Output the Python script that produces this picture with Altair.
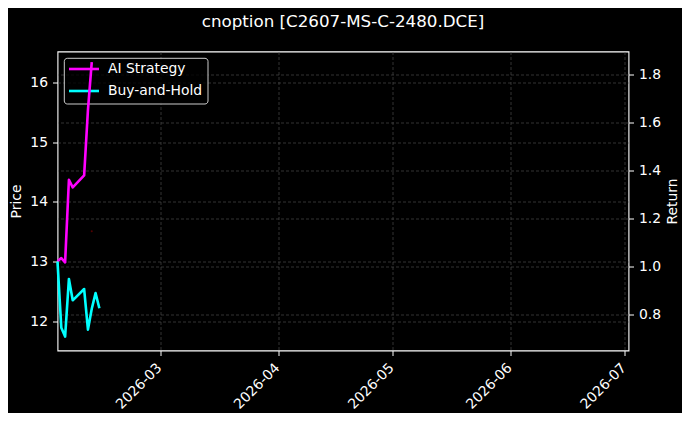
import altair as alt
import pandas as pd

FONT = "DejaVu Sans"
title_text = "cnoption [C2607-MS-C-2480.DCE]"

dates = ["2026-02-02", "2026-02-03", "2026-02-04", "2026-02-05", "2026-02-06",
         "2026-02-09", "2026-02-10", "2026-02-11", "2026-02-12", "2026-02-13"]
ai_strategy = [1.022, 1.035, 1.017, 1.361, 1.329, 1.379, 1.652, 1.851, None, None]
buy_and_hold = [1.020, 0.745, 0.708, 0.948, 0.859, 0.906, 0.737, 0.824, 0.889, 0.826]
price_dates = ["2026-02-11"]
price_values = [13.51]
series_names = ["AI Strategy", "Buy-and-Hold"]
series_colors = ["#ff00ff", "#00ffff"]
price_ticks = [12, 13, 14, 15, 16]
return_ticks = [0.8, 1.0, 1.2, 1.4, 1.6, 1.8]
month_ticks = [3, 4, 5, 6, 7]
price_domain = [11.515, 16.515]
return_domain = [0.650, 1.895]

rows = []
for name, vals in zip(series_names, [ai_strategy, buy_and_hold]):
    for d, v in zip(dates, vals):
        if v is not None:
            rows.append({"series": name, "date": d, "value": v})
ret_df = pd.DataFrame(rows)
price_df = pd.DataFrame({"date": price_dates, "price": price_values})

x_scale = alt.Scale(type="utc", domain=[alt.DateTime(year=2026, month=2, date=2, utc=True),
                                        alt.DateTime(year=2026, month=7, date=2, utc=True)])
x_axis = alt.Axis(title=None, values=[alt.DateTime(year=2026, month=m, date=1, utc=True) for m in month_ticks],
                  format="%Y-%m", labelAngle=315, labelAlign="right", labelBaseline="top",
                  labelOffset=-6, labelPadding=5, grid=True)
X = alt.X("date:T", scale=x_scale, axis=x_axis)

price_layer = alt.Chart(price_df).mark_circle(size=4, color="#8b0000", opacity=0.6).encode(
    x=X,
    y=alt.Y("price:Q", scale=alt.Scale(domain=price_domain, nice=False, zero=False),
            axis=alt.Axis(orient="left", title="Price", values=price_ticks, grid=True,
                          labelPadding=5, titlePadding=6)),
)

legend_box = alt.Chart(pd.DataFrame({"k": [0]})).mark_rect(
    fill="black", fillOpacity=0.8, stroke="#cccccc", strokeWidth=1, cornerRadius=3
).encode(x=alt.value(6.8), x2=alt.value(150.5), y=alt.value(6.8), y2=alt.value(52.5))

legend_layers = []
for i, (name, col) in enumerate(zip(series_names, series_colors)):
    yy = 17.5 + 22 * i
    legend_layers.append(
        alt.Chart(pd.DataFrame({"name": [name]})).mark_rule(strokeWidth=2.6, color=col).encode(
            x=alt.value(11.5), x2=alt.value(41.5), y=alt.value(yy))
    )
    legend_layers.append(
        alt.Chart(pd.DataFrame({"name": [name]})).mark_text(
            align="left", baseline="middle", fontSize=13.9, color="white", font=FONT
        ).encode(text="name:N", x=alt.value(50.5), y=alt.value(yy))
    )

lines = alt.Chart(ret_df).mark_line(strokeWidth=2.6, strokeJoin="round").encode(
    x=X,
    y=alt.Y("value:Q", scale=alt.Scale(domain=return_domain, nice=False, zero=False),
            axis=alt.Axis(orient="right", title="Return", values=return_ticks, format=".1f",
                          grid=True, labelPadding=5, titlePadding=5, titleAngle=270,
                          titleBaseline="top")),
    color=alt.Color("series:N", scale=alt.Scale(domain=series_names, range=series_colors), legend=None),
)

chart = alt.layer(price_layer, legend_box, *legend_layers, lines).resolve_scale(
    y="independent"
).properties(
    width=571, height=299,
    padding={"left": 49.5, "top": 43.5, "right": 53.5, "bottom": 62},
    autosize=alt.AutoSizeParams(type="none"),
    background="black",
    title=alt.TitleParams(title_text, font=FONT, fontSize=16.7, fontWeight="normal", color="white",
                          anchor="middle", frame="group", offset=21),
).configure_view(stroke="white", strokeWidth=1.1).configure_axis(
    domain=False, tickColor="white", tickSize=5, tickWidth=1,
    labelColor="white", titleColor="white", labelFont=FONT, titleFont=FONT,
    labelFontSize=13.9, titleFontSize=13.9, titleFontWeight="normal",
    gridColor="#555555", gridDash=[3, 2], gridWidth=0.6,
)

chart.save("out.html", embed_options={"renderer": "svg", "actions": False})
